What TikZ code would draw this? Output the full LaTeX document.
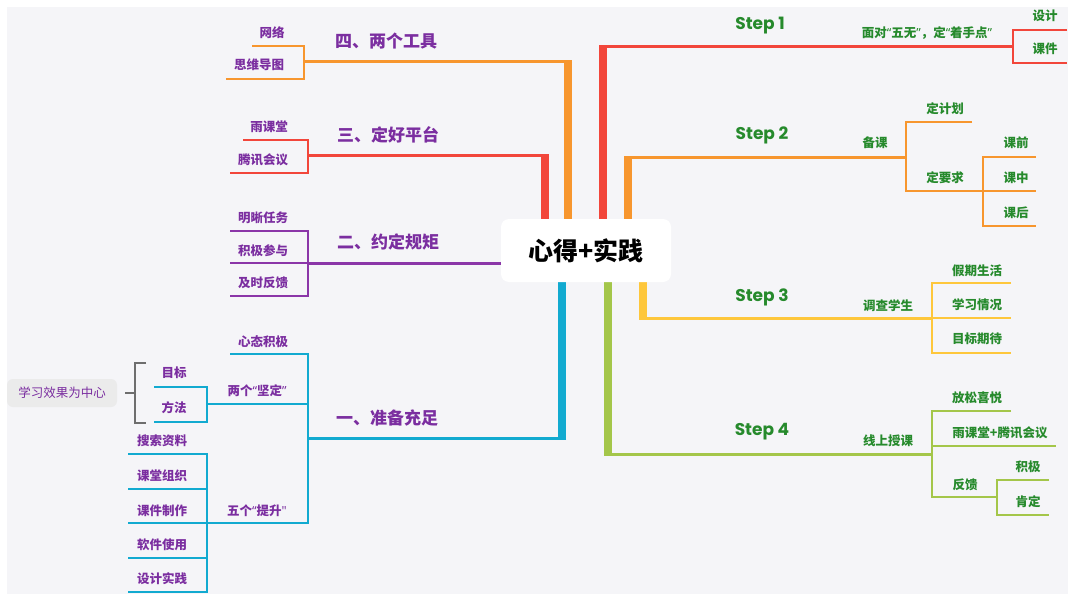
\documentclass[tikz,border=0pt]{standalone}
\usepackage{fontspec}
\setmainfont{Noto Sans CJK SC}
\newfontfamily\stepfont{Poppins}
\newfontfamily\quotefont{Noto Sans}
\newcommand\qq[1]{{\quotefont #1}}
\definecolor{bgc}{HTML}{F5F5F8}
\definecolor{cred}{HTML}{F2463B}
\definecolor{corange}{HTML}{F7962E}
\definecolor{cyellow}{HTML}{FEC73C}
\definecolor{cgreen}{HTML}{A4C64A}
\definecolor{cblue}{HTML}{12AAD0}
\definecolor{cpurple}{HTML}{8B36A8}
\definecolor{tgreen}{HTML}{268A2C}
\definecolor{tpurple}{HTML}{7B2EA0}
\definecolor{cgray}{HTML}{6E6E6E}
\tikzset{
  trunk/.style={line width=8pt},
  mainln/.style={line width=3pt},
  subln/.style={line width=2.2pt},
  steplbl/.style={font=\stepfont\bfseries\fontsize{17}{17}\selectfont, text=tgreen, inner sep=0pt},
  glbl/.style={font=\bfseries\fontsize{12.5}{12.5}\selectfont, text=tgreen, inner sep=0pt},
  plbl/.style={font=\bfseries\fontsize{17}{17}\selectfont, text=tpurple, inner sep=0pt},
  slbl/.style={font=\bfseries\fontsize{12.5}{12.5}\selectfont, text=tpurple, inner sep=0pt},
}
\begin{document}
\begin{tikzpicture}[x=1pt,y=-1pt]
\useasboundingbox (0,0) rectangle (1068,594);
\fill[bgc] (7,7) rectangle (1068,594);

% ---------- RIGHT: Step 1 (red)
\coordinate (s1t) at (603,219); \coordinate (s1c) at (603,45.5);
\coordinate (s1h) at (599,47); \coordinate (s1b) at (1013,47);
\draw[cred,trunk] (s1t) -- (s1c);
\draw[cred,mainln] (s1h) -- (s1b);
\coordinate (s1u) at (1013,30); \coordinate (s1d) at (1013,63);
\coordinate (s1ue) at (1067,30); \coordinate (s1de) at (1067,63);
\draw[cred,subln] (s1ue) -- (s1u) -- (s1d) -- (s1de);
\node[steplbl] (st1) at (760,26) {Step 1};
\node[glbl] (n11) at (927,33) {面对\qq{“}五无\qq{”}，定\qq{“}着手点\qq{”}};
\node[glbl] (n111) at (1045,16) {设计};
\node[glbl] (n112) at (1045,49) {课件};

% ---------- Step 2 (orange)
\coordinate (s2t) at (628,219); \coordinate (s2c) at (628,155.5);
\coordinate (s2h) at (624,157); \coordinate (s2b) at (906,157);
\draw[corange,trunk] (s2t) -- (s2c);
\draw[corange,mainln] (s2h) -- (s2b);
\coordinate (s2u) at (906,122); \coordinate (s2d) at (906,191);
\coordinate (s2ue) at (972,122); \coordinate (s2b2) at (983,191);
\draw[corange,subln] (s2ue) -- (s2u) -- (s2d) -- (s2b2);
\coordinate (s2bu) at (983,157); \coordinate (s2bd) at (983,226);
\coordinate (s2e1) at (1036,157); \coordinate (s2e2) at (1036,191); \coordinate (s2e3) at (1036,226);
\draw[corange,subln] (s2e1) -- (s2bu) -- (s2bd) -- (s2e3);
\draw[corange,subln] (s2b2) -- (s2e2);
\node[steplbl] (st2) at (762,135) {Step 2};
\node[glbl] (n21) at (875,143) {备课};
\node[glbl] (n211) at (945,109) {定计划};
\node[glbl] (n212) at (945,178) {定要求};
\node[glbl] (n2121) at (1016,143) {课前};
\node[glbl] (n2122) at (1016,178) {课中};
\node[glbl] (n2123) at (1016,213) {课后};

% ---------- Step 3 (yellow)
\coordinate (s3t) at (643,282); \coordinate (s3c) at (643,319.5);
\coordinate (s3h) at (639,318); \coordinate (s3b) at (932,318);
\draw[cyellow,trunk] (s3t) -- (s3c);
\draw[cyellow,mainln] (s3h) -- (s3b);
\coordinate (s3u) at (932,283); \coordinate (s3d) at (932,353);
\coordinate (s3e1) at (1011,283); \coordinate (s3e2) at (1011,318); \coordinate (s3e3) at (1011,353);
\draw[cyellow,subln] (s3e1) -- (s3u) -- (s3d) -- (s3e3);
\draw[cyellow,subln] (s3b) -- (s3e2);
\node[steplbl] (st3) at (762,297) {Step 3};
\node[glbl] (n31) at (888,306) {调查学生};
\node[glbl] (n311) at (977,271) {假期生活};
\node[glbl] (n312) at (977,305) {学习情况};
\node[glbl] (n313) at (977,339) {目标期待};

% ---------- Step 4 (green)
\coordinate (s4t) at (608,282); \coordinate (s4c) at (608,455.5);
\coordinate (s4h) at (604,454); \coordinate (s4b) at (932,454);
\draw[cgreen,trunk] (s4t) -- (s4c);
\draw[cgreen,mainln] (s4h) -- (s4b);
\coordinate (s4u) at (932,411); \coordinate (s4d) at (932,497);
\coordinate (s4e1) at (1011,411); \coordinate (s4m) at (932,446); \coordinate (s4e2) at (1056,446);
\coordinate (s4f) at (997,497);
\draw[cgreen,subln] (s4e1) -- (s4u) -- (s4d) -- (s4f);
\draw[cgreen,subln] (s4m) -- (s4e2);
\coordinate (s4fu) at (997,480); \coordinate (s4fd) at (997,515);
\coordinate (s4g1) at (1049,480); \coordinate (s4g2) at (1049,515);
\draw[cgreen,subln] (s4g1) -- (s4fu) -- (s4fd) -- (s4g2);
\node[steplbl] (st4) at (762,432) {Step 4};
\node[glbl] (n41) at (888,441) {线上授课};
\node[glbl] (n411) at (977,398) {放松喜悦};
\node[glbl] (n412) at (1000,433) {雨课堂+腾讯会议};
\node[glbl] (n413) at (965,485) {反馈};
\node[glbl] (n4131) at (1028,467) {积极};
\node[glbl] (n4132) at (1028,502) {肯定};

% ---------- LEFT: 四 (orange)
\coordinate (l4t) at (568,219); \coordinate (l4c) at (568,60.5);
\coordinate (l4h) at (572,62); \coordinate (l4b) at (304,62);
\draw[corange,trunk] (l4t) -- (l4c);
\draw[corange,mainln] (l4h) -- (l4b);
\coordinate (l4u) at (304,46); \coordinate (l4d) at (304,79);
\coordinate (l4e1) at (252,46); \coordinate (l4e2) at (226,79);
\draw[corange,subln] (l4e1) -- (l4u) -- (l4d) -- (l4e2);
\node[plbl] (p4) at (386,41) {四、两个工具};
\node[slbl] (p41) at (272,33) {网络};
\node[slbl] (p42) at (259,65) {思维导图};

% ---------- 三 (red)
\coordinate (l3t) at (545,219); \coordinate (l3c) at (545,153.5);
\coordinate (l3h) at (549,155); \coordinate (l3b) at (308,155);
\draw[cred,trunk] (l3t) -- (l3c);
\draw[cred,mainln] (l3h) -- (l3b);
\coordinate (l3u) at (308,140); \coordinate (l3d) at (308,173);
\coordinate (l3e1) at (243,140); \coordinate (l3e2) at (230,173);
\draw[cred,subln] (l3e1) -- (l3u) -- (l3d) -- (l3e2);
\node[plbl] (p3) at (388,135) {三、定好平台};
\node[slbl] (p31) at (269,127) {雨课堂};
\node[slbl] (p32) at (263,160) {腾讯会议};

% ---------- 二 (purple)
\coordinate (l2h) at (503,263); \coordinate (l2b) at (308,263);
\draw[cpurple,mainln] (l2h) -- (l2b);
\coordinate (l2u) at (308,231); \coordinate (l2d) at (308,296);
\coordinate (l2e1) at (230,231); \coordinate (l2e2) at (230,263); \coordinate (l2e3) at (230,296);
\draw[cpurple,subln] (l2e1) -- (l2u) -- (l2d) -- (l2e3);
\draw[cpurple,subln] (l2b) -- (l2e2);
\node[plbl] (p2) at (388,242) {二、约定规矩};
\node[slbl] (p21) at (263,218) {明晰任务};
\node[slbl] (p22) at (263,251) {积极参与};
\node[slbl] (p23) at (263,283) {及时反馈};

% ---------- 一 (blue)
\coordinate (l1t) at (562,282); \coordinate (l1c) at (562,439.5);
\coordinate (l1h) at (566,438); \coordinate (l1b) at (308,438);
\draw[cblue,trunk] (l1t) -- (l1c);
\draw[cblue,mainln] (l1h) -- (l1b);
\coordinate (l1u) at (308,354); \coordinate (l1d) at (308,523);
\coordinate (l1e1) at (230,354); \coordinate (l1m) at (308,404); \coordinate (l1j) at (207,404);
\coordinate (l1k) at (207,523);
\draw[cblue,subln] (l1e1) -- (l1u) -- (l1d) -- (l1k);
\draw[cblue,subln] (l1m) -- (l1j);
% 两个坚定
\coordinate (l1ju) at (207,387); \coordinate (l1jd) at (207,422);
\coordinate (l1je1) at (154,387); \coordinate (l1je2) at (154,422);
\draw[cblue,subln] (l1je1) -- (l1ju) -- (l1jd) -- (l1je2);
% 五个提升
\coordinate (l1ku) at (207,454); \coordinate (l1kd) at (207,592);
\coordinate (l1k1) at (128,454); \coordinate (l1k2) at (128,489); \coordinate (l1k3) at (128,523);
\coordinate (l1k4) at (128,558); \coordinate (l1k5) at (128,592);
\coordinate (l1m2) at (207,489); \coordinate (l1m4) at (207,558);
\draw[cblue,subln] (l1k1) -- (l1ku) -- (l1kd) -- (l1k5);
\draw[cblue,subln] (l1m2) -- (l1k2);
\draw[cblue,subln] (l1k) -- (l1k3);
\draw[cblue,subln] (l1m4) -- (l1k4);
\node[plbl] (p1) at (387,418) {一、准备充足};
\node[slbl] (p11) at (263,342) {心态积极};
\node[slbl] (p12) at (257,391) {两个\qq{“}坚定\qq{”}};
\node[slbl] (p13) at (257,511) {五个\qq{“}提升\qq{"}};
\node[slbl] (p121) at (174,373) {目标};
\node[slbl] (p122) at (174,408) {方法};
\node[slbl] (p131) at (162,441) {搜索资料};
\node[slbl] (p132) at (162,476) {课堂组织};
\node[slbl] (p133) at (162,511) {课件制作};
\node[slbl] (p134) at (162,545) {软件使用};
\node[slbl] (p135) at (162,579) {设计实践};

% gray summary
\node[fill=black!8, rounded corners=6pt, minimum width=110pt, minimum height=28pt, inner sep=0pt,
      font=\fontsize{12.5}{12.5}\selectfont, text=tpurple] (sum) at (62,393) {学习效果为中心};
\coordinate (gb1) at (125,393); \coordinate (gb2) at (135,393);
\coordinate (gbu) at (135,363); \coordinate (gbd) at (135,423);
\coordinate (gbue) at (146,363); \coordinate (gbde) at (146,423);
\draw[cgray,line width=1.6pt] (gb1) -- (gb2);
\draw[cgray,line width=1.6pt] (gbue) -- (gbu) -- (gbd) -- (gbde);

% ---------- root
\node[fill=white, rounded corners=8pt, minimum width=170pt, minimum height=63pt, inner sep=0pt,
      font=\bfseries\fontsize{25}{25}\selectfont, text=black] (root) at (586,250.5) {心得+实践};
\end{tikzpicture}
\end{document}
